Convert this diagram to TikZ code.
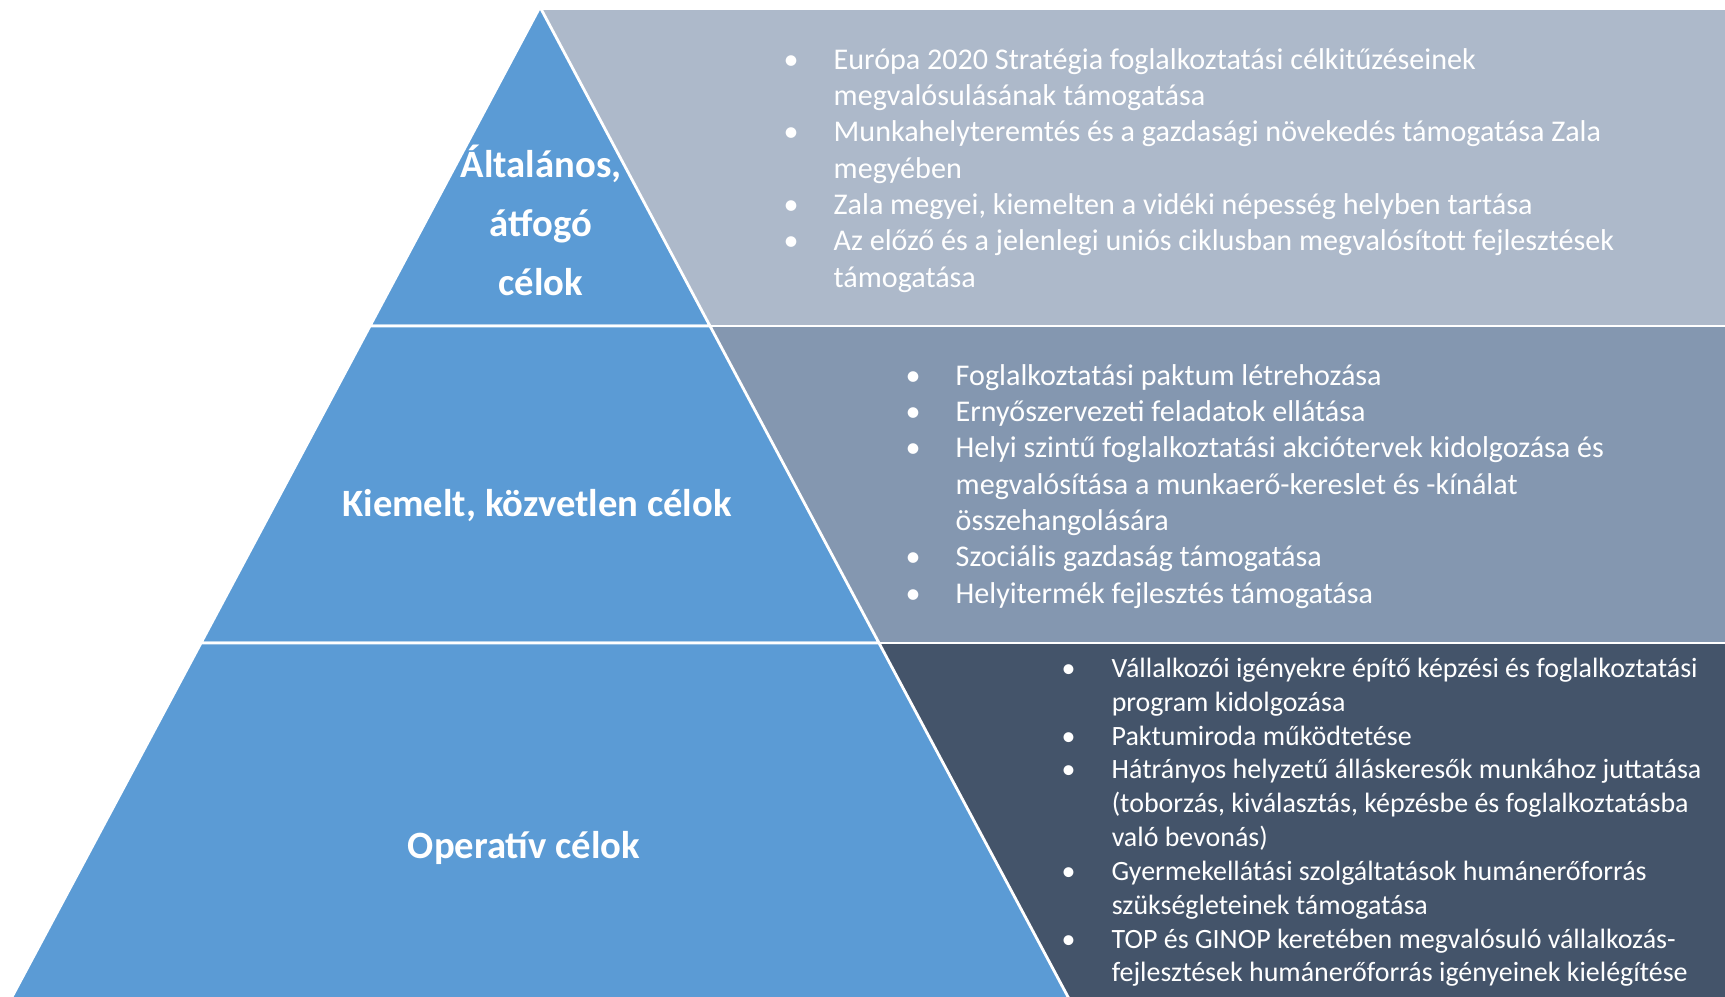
\documentclass[tikz,border=0pt]{standalone}
\usepackage{fontspec}
\setmainfont{Carlito}
\usetikzlibrary{positioning,calc}

\definecolor{piramis}{HTML}{5B9BD5}
\definecolor{sav1}{HTML}{ADB9CA}
\definecolor{sav2}{HTML}{8497B0}
\definecolor{sav3}{HTML}{44546A}

\newlength{\pontw}
\setlength{\pontw}{0.5cm}
\newcommand{\pont}{\strut\makebox[\pontw][l]{•}}
\newcommand{\folyt}{\strut\hspace*{\pontw}}

\tikzset{
  szint/.style={fill=piramis,draw=white,line width=0.8pt,line join=miter},
  valaszto/.style={draw=white,line width=0.6pt},
  cimke/.style={text=white,font=\fontsize{11}{16.8}\selectfont\bfseries,inner sep=0pt,align=center},
  lista/.style={text=white,font=\fontsize{8.56}{10.34}\selectfont,inner sep=0pt,align=left,anchor=north west},
}

\begin{document}
\begin{tikzpicture}[x=0.01cm,y=-0.01cm]
\useasboundingbox (0,0) rectangle (1725,996);
% pyramid corners
\coordinate (csucs) at (540,7);
\coordinate (b1) at (370,326);
\coordinate (j1) at (710,326);
\coordinate (b2) at (201,643);
\coordinate (j2) at (879,643);
\coordinate (b3) at (5,1010);
\coordinate (j3) at (1075,1010);
% panels behind
\fill[sav1] (541,10) -- (1725,10) -- (1725,326) -- (j1) -- cycle;
\fill[sav2] (j1) -- (1725,326) -- (1725,643) -- (j2) -- cycle;
\fill[sav3] (j2) -- (1725,643) -- (1725,1010) -- (j3) -- cycle;
% pyramid levels
\draw[szint] (csucs) -- (j1) -- (b1) -- cycle;
\draw[szint] (b1) -- (j1) -- (j2) -- (b2) -- cycle;
\draw[szint] (b2) -- (j2) -- (j3) -- (b3) -- cycle;
\draw[valaszto] (b1) -- (1725,326);
\draw[valaszto] (b2) -- (1725,643);

\node[cimke,anchor=north] (altalanos) at (541,135) {\strut Általános,\\átfogó\\célok};
\node[cimke,anchor=base] (kiemelt) at (537,516) {Kiemelt, közvetlen célok};
\node[cimke,anchor=base] (operativ) at (524,858) {Operatív célok};

\node[lista] (lista1) at (783,43) {%
\pont Európa 2020 Stratégia foglalkoztatási célkitűzéseinek\\
\folyt megvalósulásának támogatása\\
\pont Munkahelyteremtés és a gazdasági növekedés támogatása Zala\\
\folyt megyében\\
\pont Zala megyei, kiemelten a vidéki népesség helyben tartása\\
\pont Az előző és a jelenlegi uniós ciklusban megvalósított fejlesztések\\
\folyt támogatása};

\node[lista] (lista2) at (905,359) {%
\pont Foglalkoztatási paktum létrehozása\\
\pont Ernyőszervezeti feladatok ellátása\\
\pont Helyi szintű foglalkoztatási akciótervek kidolgozása és\\
\folyt megvalósítása a munkaerő-kereslet és -kínálat\\
\folyt összehangolására\\
\pont Szociális gazdaság támogatása\\
\pont Helyitermék fejlesztés támogatása};

\node[lista,font=\fontsize{7.95}{9.62}\selectfont] (lista3) at (1061,653) {%
\pont Vállalkozói igényekre építő képzési és foglalkoztatási\\
\folyt program kidolgozása\\
\pont Paktumiroda működtetése\\
\pont Hátrányos helyzetű álláskeresők munkához juttatása\\
\folyt (toborzás, kiválasztás, képzésbe és foglalkoztatásba\\
\folyt való bevonás)\\
\pont Gyermekellátási szolgáltatások humánerőforrás\\
\folyt szükségleteinek támogatása\\
\pont TOP és GINOP keretében megvalósuló vállalkozás-\\
\folyt fejlesztések humánerőforrás igényeinek kielégítése};
\end{tikzpicture}
\end{document}
